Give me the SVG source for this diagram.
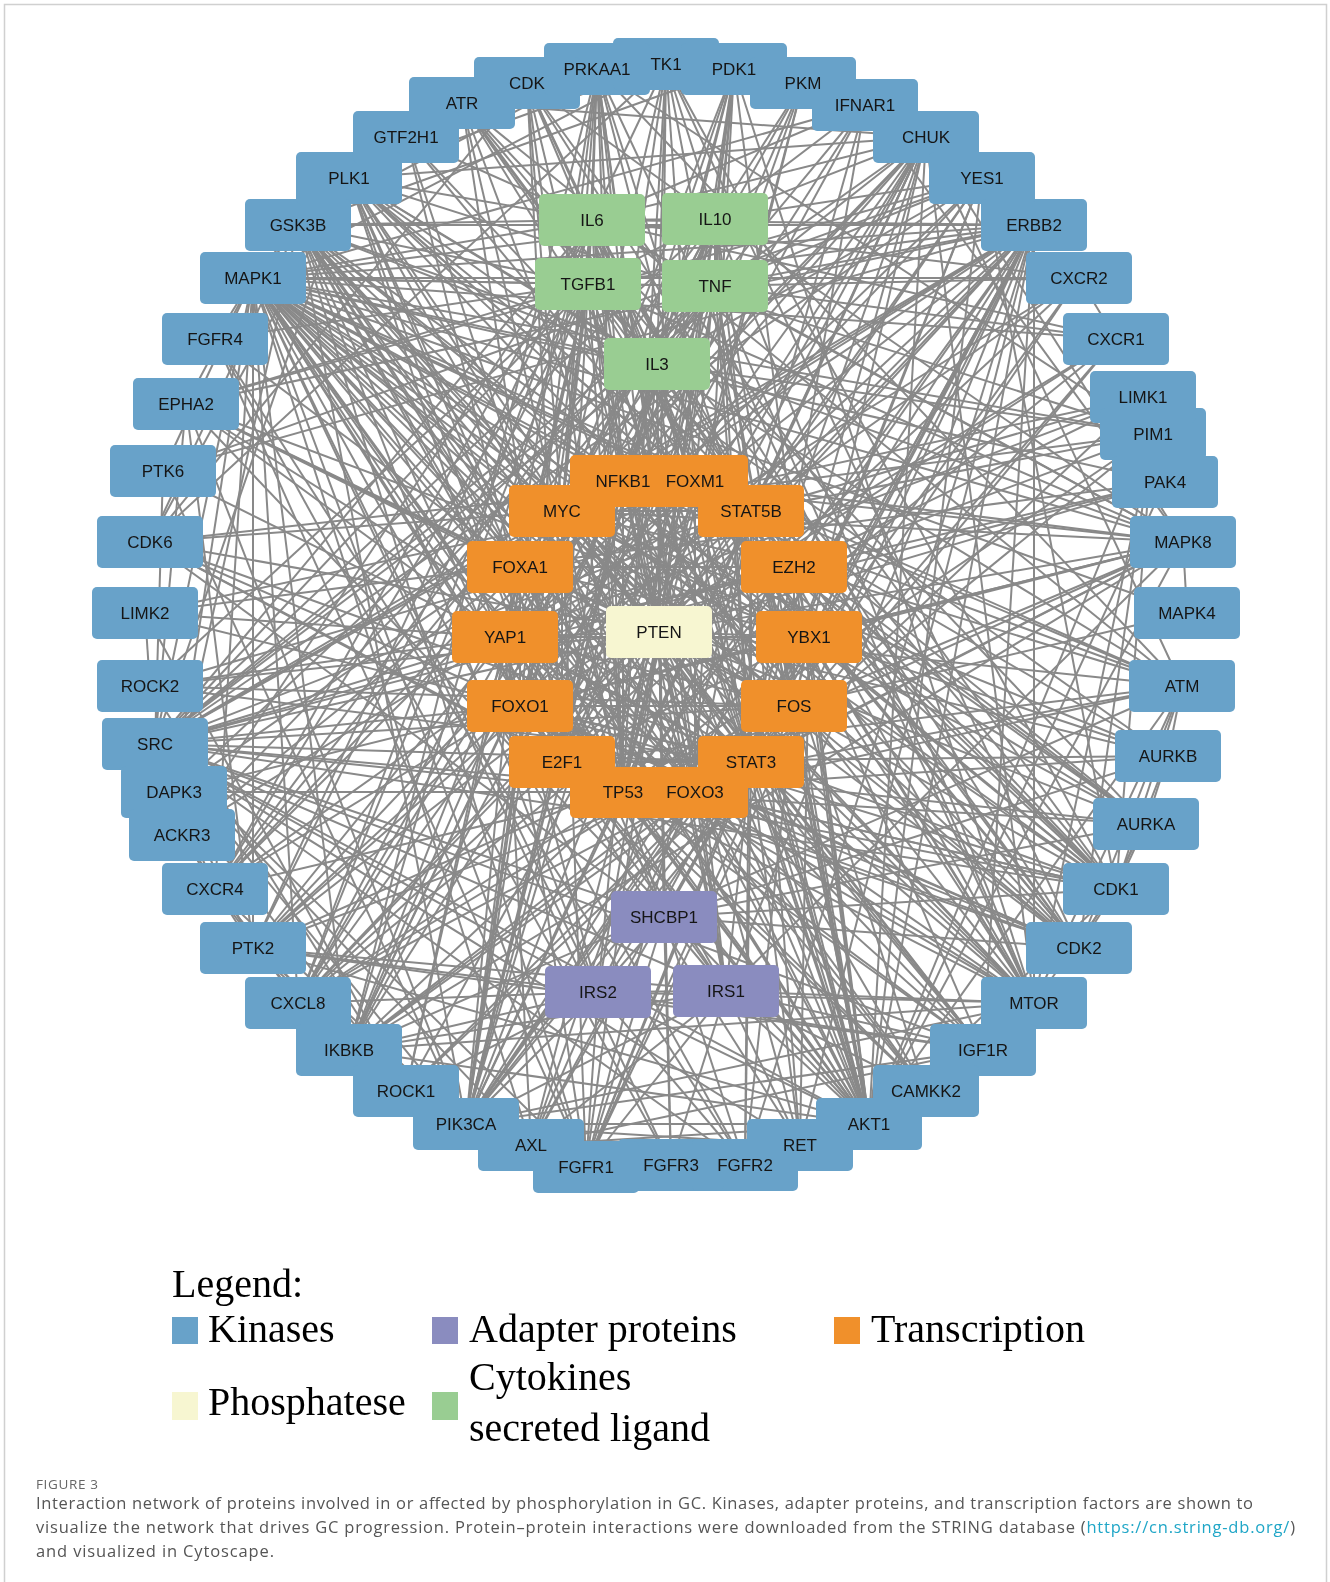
<svg xmlns="http://www.w3.org/2000/svg" width="1330" height="1582" viewBox="0 0 1330 1582">
<style>
.e path{fill:none;stroke:#898989;stroke-width:2}
.n rect{mix-blend-mode:darken}
.n text{font-family:"Liberation Sans",Arial,sans-serif;font-size:17px;fill:#151515;text-anchor:middle}
.k rect{fill:#68a2c9}
.t rect{fill:#f0902b}
.c rect{fill:#99cd92}
.a rect{fill:#8a8cbf}
.p rect{fill:#f7f6d1}
.lg{font-family:"Liberation Serif","Times New Roman",serif;font-size:40px;fill:#000}
.cap{font-family:"Open Sans","Liberation Sans",sans-serif;font-size:16.5px;fill:#555;font-weight:400}
</style>
<rect width="1330" height="1582" fill="#fff"/>
<path d="M4.5 1582V4.5H1326.5V1582" fill="none" stroke="#d0d0d0" stroke-width="1.5"/>
<g id="connectors" class="e">
<path d="M659 632L623 481"/><path d="M659 632L695 481"/><path d="M659 632L562 511"/><path d="M659 632L751 511"/><path d="M659 632L520 567"/><path d="M659 632L794 567"/><path d="M659 632L505 637"/><path d="M659 632L809 637"/><path d="M659 632L520 706"/><path d="M659 632L794 706"/><path d="M659 632L562 762"/><path d="M659 632L751 762"/><path d="M659 632L623 792"/><path d="M659 632L695 792"/>
<path d="M659 632L592 220"/><path d="M659 632L715 219"/><path d="M659 632L588 284"/><path d="M659 632L715 286"/><path d="M659 632L657 364"/><path d="M659 632L664 917"/><path d="M659 632L598 992"/><path d="M659 632L726 991"/>
<path d="M659 632L666 64"/><path d="M659 632L734 69"/><path d="M659 632L803 83"/><path d="M659 632L926 137"/><path d="M659 632L982 178"/><path d="M659 632L1034 225"/><path d="M659 632L1116 339"/><path d="M659 632L1165 482"/><path d="M659 632L1183 542"/><path d="M659 632L1182 686"/><path d="M659 632L1168 756"/><path d="M659 632L1146 824"/><path d="M659 632L1116 889"/><path d="M659 632L1079 948"/><path d="M659 632L1034 1003"/><path d="M659 632L983 1050"/><path d="M659 632L926 1091"/><path d="M659 632L869 1124"/><path d="M659 632L800 1145"/><path d="M659 632L671 1165"/><path d="M659 632L586 1167"/><path d="M659 632L466 1124"/><path d="M659 632L406 1091"/><path d="M659 632L298 1003"/><path d="M659 632L253 948"/><path d="M659 632L155 744"/><path d="M659 632L150 686"/><path d="M659 632L150 542"/><path d="M659 632L186 404"/><path d="M659 632L253 278"/><path d="M659 632L298 225"/><path d="M659 632L349 178"/><path d="M659 632L462 103"/><path d="M659 632L527 83"/><path d="M659 632L597 69"/>
<path d="M623 792L562 511"/><path d="M623 792L751 762"/><path d="M623 792L623 481"/><path d="M623 792L695 792"/><path d="M623 792L562 762"/><path d="M623 792L695 481"/><path d="M623 792L505 637"/><path d="M623 792L809 637"/><path d="M623 792L794 567"/><path d="M623 792L794 706"/><path d="M623 792L520 706"/><path d="M623 792L751 511"/><path d="M623 792L520 567"/><path d="M623 792L592 220"/><path d="M623 792L715 219"/><path d="M623 792L715 286"/><path d="M623 792L588 284"/><path d="M623 792L664 917"/>
<path d="M623 792L1182 686"/><path d="M623 792L462 103"/><path d="M623 792L1116 889"/><path d="M623 792L1079 948"/><path d="M623 792L150 542"/><path d="M623 792L1146 824"/><path d="M623 792L1168 756"/><path d="M623 792L349 178"/><path d="M623 792L1034 1003"/><path d="M623 792L869 1124"/><path d="M623 792L466 1124"/><path d="M623 792L253 278"/><path d="M623 792L1183 542"/><path d="M623 792L298 225"/><path d="M623 792L155 744"/><path d="M623 792L597 69"/><path d="M623 792L926 137"/><path d="M623 792L349 1050"/><path d="M623 792L174 792"/><path d="M623 792L1153 434"/><path d="M623 792L666 64"/><path d="M623 792L527 83"/><path d="M623 792L983 1050"/><path d="M623 792L1034 225"/><path d="M623 792L531 1145"/><path d="M623 792L803 83"/><path d="M623 792L734 69"/><path d="M623 792L406 137"/><path d="M623 792L298 1003"/><path d="M623 792L926 1091"/>
<path d="M562 511L869 1124"/><path d="M562 511L298 225"/><path d="M562 511L253 278"/><path d="M562 511L1183 542"/><path d="M562 511L1034 1003"/><path d="M562 511L1116 889"/><path d="M562 511L1079 948"/><path d="M562 511L150 542"/><path d="M562 511L1146 824"/><path d="M562 511L1168 756"/><path d="M562 511L349 178"/><path d="M562 511L1153 434"/><path d="M562 511L803 83"/><path d="M562 511L734 69"/><path d="M562 511L666 64"/><path d="M562 511L1034 225"/><path d="M562 511L155 744"/><path d="M562 511L983 1050"/><path d="M562 511L466 1124"/><path d="M562 511L926 137"/><path d="M562 511L349 1050"/><path d="M562 511L527 83"/><path d="M562 511L597 69"/><path d="M562 511L586 1167"/>
<path d="M562 511L751 762"/><path d="M562 511L623 481"/><path d="M562 511L695 792"/><path d="M562 511L562 762"/><path d="M562 511L505 637"/><path d="M562 511L794 567"/><path d="M562 511L695 481"/><path d="M562 511L809 637"/><path d="M562 511L794 706"/><path d="M562 511L751 511"/><path d="M562 511L592 220"/><path d="M562 511L715 286"/><path d="M562 511L588 284"/><path d="M562 511L715 219"/>
<path d="M751 762L155 744"/><path d="M751 762L253 278"/><path d="M751 762L1183 542"/><path d="M751 762L869 1124"/><path d="M751 762L1034 1003"/><path d="M751 762L1034 225"/><path d="M751 762L983 1050"/><path d="M751 762L253 948"/><path d="M751 762L215 889"/><path d="M751 762L298 1003"/><path d="M751 762L1116 339"/><path d="M751 762L1079 278"/><path d="M751 762L865 105"/><path d="M751 762L1153 434"/><path d="M751 762L982 178"/><path d="M751 762L466 1124"/><path d="M751 762L349 1050"/><path d="M751 762L926 137"/><path d="M751 762L800 1145"/><path d="M751 762L586 1167"/><path d="M751 762L745 1165"/><path d="M751 762L186 404"/><path d="M751 762L163 471"/><path d="M751 762L531 1145"/><path d="M751 762L145 613"/><path d="M751 762L150 686"/>
<path d="M751 762L623 481"/><path d="M751 762L695 792"/><path d="M751 762L562 762"/><path d="M751 762L505 637"/><path d="M751 762L794 567"/><path d="M751 762L751 511"/><path d="M751 762L695 481"/><path d="M751 762L794 706"/><path d="M751 762L520 706"/><path d="M751 762L520 567"/><path d="M751 762L592 220"/><path d="M751 762L715 219"/><path d="M751 762L715 286"/><path d="M751 762L588 284"/><path d="M751 762L657 364"/><path d="M751 762L726 991"/><path d="M751 762L598 992"/><path d="M751 762L664 917"/>
<path d="M623 481L349 1050"/><path d="M623 481L926 137"/><path d="M623 481L869 1124"/><path d="M623 481L253 278"/><path d="M623 481L1183 542"/><path d="M623 481L155 744"/><path d="M623 481L466 1124"/><path d="M623 481L1034 1003"/><path d="M623 481L298 225"/><path d="M623 481L1182 686"/><path d="M623 481L298 1003"/><path d="M623 481L215 889"/><path d="M623 481L865 105"/><path d="M623 481L1034 225"/><path d="M623 481L597 69"/><path d="M623 481L734 69"/><path d="M623 481L174 792"/><path d="M623 481L182 835"/>
<path d="M623 481L695 792"/><path d="M623 481L562 762"/><path d="M623 481L794 706"/><path d="M623 481L751 511"/><path d="M623 481L505 637"/><path d="M623 481L520 706"/><path d="M623 481L592 220"/><path d="M623 481L715 219"/><path d="M623 481L715 286"/><path d="M623 481L588 284"/><path d="M623 481L657 364"/><path d="M623 481L726 991"/>
<path d="M695 792L869 1124"/><path d="M695 792L1034 1003"/><path d="M695 792L597 69"/><path d="M695 792L466 1124"/><path d="M695 792L349 1050"/><path d="M695 792L253 278"/><path d="M695 792L1183 542"/><path d="M695 792L1116 889"/><path d="M695 792L1079 948"/><path d="M695 792L298 225"/><path d="M695 792L983 1050"/><path d="M695 792L155 744"/><path d="M695 792L349 178"/><path d="M695 792L1182 686"/><path d="M695 792L926 1091"/><path d="M695 792L734 69"/><path d="M695 792L926 137"/>
<path d="M695 792L520 706"/><path d="M695 792L695 481"/><path d="M695 792L562 762"/><path d="M695 792L505 637"/><path d="M695 792L520 567"/><path d="M695 792L751 511"/><path d="M695 792L726 991"/><path d="M695 792L598 992"/>
<path d="M562 762L1116 889"/><path d="M562 762L1079 948"/><path d="M562 762L150 542"/><path d="M562 762L527 83"/><path d="M562 762L1182 686"/><path d="M562 762L462 103"/><path d="M562 762L1146 824"/><path d="M562 762L1168 756"/><path d="M562 762L349 178"/><path d="M562 762L666 64"/><path d="M562 762L406 137"/><path d="M562 762L869 1124"/><path d="M562 762L253 278"/><path d="M562 762L926 137"/><path d="M562 762L803 83"/>
<path d="M562 762L695 481"/><path d="M562 762L794 567"/><path d="M562 762L809 637"/><path d="M562 762L505 637"/><path d="M562 762L520 706"/><path d="M562 762L588 284"/>
<path d="M695 481L1116 889"/><path d="M695 481L1079 948"/><path d="M695 481L150 542"/><path d="M695 481L349 178"/><path d="M695 481L1146 824"/><path d="M695 481L1168 756"/><path d="M695 481L1182 686"/><path d="M695 481L462 103"/><path d="M695 481L869 1124"/><path d="M695 481L253 278"/><path d="M695 481L1183 542"/><path d="M695 481L1034 1003"/><path d="M695 481L666 64"/><path d="M695 481L527 83"/><path d="M695 481L734 69"/>
<path d="M695 481L794 567"/><path d="M695 481L809 637"/><path d="M695 481L520 567"/><path d="M695 481L751 511"/><path d="M695 481L520 706"/><path d="M695 481L592 220"/>
<path d="M751 511L155 744"/><path d="M751 511L982 178"/><path d="M751 511L1153 434"/><path d="M751 511L1034 225"/><path d="M751 511L253 278"/><path d="M751 511L869 1124"/><path d="M751 511L865 105"/><path d="M751 511L253 948"/><path d="M751 511L983 1050"/><path d="M751 511L586 1167"/><path d="M751 511L745 1165"/><path d="M751 511L800 1145"/><path d="M751 511L531 1145"/><path d="M751 511L926 137"/><path d="M751 511L657 364"/><path d="M751 511L592 220"/><path d="M751 511L715 219"/><path d="M751 511L505 637"/><path d="M751 511L794 567"/><path d="M751 511L794 706"/>
<path d="M520 567L1034 225"/><path d="M520 567L253 278"/><path d="M520 567L869 1124"/><path d="M520 567L298 225"/><path d="M520 567L466 1124"/><path d="M520 567L215 339"/><path d="M520 567L186 404"/><path d="M520 567L794 567"/><path d="M520 567L809 637"/><path d="M520 567L520 706"/><path d="M520 567L505 637"/><path d="M520 567L588 284"/>
<path d="M794 567L1116 889"/><path d="M794 567L1079 948"/><path d="M794 567L869 1124"/><path d="M794 567L1182 686"/><path d="M794 567L1146 824"/><path d="M794 567L349 178"/><path d="M794 567L253 278"/><path d="M794 567L1034 225"/><path d="M794 567L155 744"/><path d="M794 567L1143 397"/><path d="M794 567L1153 434"/><path d="M794 567L505 637"/><path d="M794 567L809 637"/><path d="M794 567L794 706"/><path d="M794 567L588 284"/><path d="M794 567L592 220"/>
<path d="M505 637L155 744"/><path d="M505 637L982 178"/><path d="M505 637L1143 397"/><path d="M505 637L145 613"/><path d="M505 637L406 1091"/><path d="M505 637L150 686"/><path d="M505 637L1165 482"/><path d="M505 637L869 1124"/><path d="M505 637L1034 1003"/><path d="M505 637L253 278"/><path d="M505 637L253 948"/><path d="M505 637L186 404"/><path d="M505 637L531 1145"/><path d="M505 637L1034 225"/><path d="M505 637L597 69"/><path d="M505 637L586 1167"/><path d="M505 637L809 637"/><path d="M505 637L794 706"/><path d="M505 637L520 706"/><path d="M505 637L588 284"/>
<path d="M809 637L869 1124"/><path d="M809 637L253 278"/><path d="M809 637L1034 1003"/><path d="M809 637L1034 225"/><path d="M809 637L1116 889"/><path d="M809 637L466 1124"/><path d="M809 637L1168 756"/><path d="M809 637L1183 542"/><path d="M809 637L186 404"/><path d="M809 637L800 1145"/><path d="M809 637L794 706"/><path d="M809 637L520 706"/>
<path d="M520 706L869 1124"/><path d="M520 706L1034 1003"/><path d="M520 706L466 1124"/><path d="M520 706L983 1050"/><path d="M520 706L1116 889"/><path d="M520 706L1079 948"/><path d="M520 706L298 225"/><path d="M520 706L1183 542"/><path d="M520 706L597 69"/><path d="M520 706L155 744"/><path d="M520 706L734 69"/><path d="M520 706L926 1091"/><path d="M520 706L349 178"/><path d="M520 706L726 991"/><path d="M520 706L598 992"/><path d="M520 706L794 706"/>
<path d="M794 706L253 278"/><path d="M794 706L1183 542"/><path d="M794 706L1187 613"/><path d="M794 706L155 744"/><path d="M794 706L869 1124"/><path d="M794 706L926 137"/><path d="M794 706L349 1050"/><path d="M794 706L253 948"/><path d="M794 706L586 1167"/><path d="M794 706L745 1165"/><path d="M794 706L1034 225"/><path d="M794 706L186 404"/><path d="M794 706L298 1003"/><path d="M794 706L406 1091"/><path d="M794 706L150 686"/><path d="M794 706L715 286"/><path d="M794 706L592 220"/>
<path d="M592 220L715 219"/><path d="M592 220L715 286"/><path d="M592 220L588 284"/><path d="M592 220L657 364"/><path d="M592 220L298 1003"/><path d="M592 220L1116 339"/><path d="M592 220L1079 278"/><path d="M592 220L215 889"/><path d="M592 220L155 744"/><path d="M592 220L869 1124"/><path d="M592 220L1034 1003"/><path d="M592 220L253 278"/><path d="M592 220L1183 542"/><path d="M592 220L298 225"/><path d="M592 220L349 1050"/><path d="M592 220L926 137"/><path d="M592 220L1034 225"/><path d="M592 220L865 105"/><path d="M592 220L253 948"/><path d="M592 220L182 835"/><path d="M592 220L466 1124"/><path d="M592 220L666 64"/><path d="M592 220L527 83"/><path d="M592 220L597 69"/><path d="M592 220L349 178"/><path d="M592 220L406 137"/>
<path d="M715 219L715 286"/><path d="M715 219L588 284"/><path d="M715 219L657 364"/><path d="M715 219L865 105"/><path d="M715 219L298 1003"/><path d="M715 219L869 1124"/><path d="M715 219L253 278"/><path d="M715 219L1183 542"/><path d="M715 219L155 744"/><path d="M715 219L349 1050"/><path d="M715 219L926 137"/><path d="M715 219L466 1124"/><path d="M715 219L1034 1003"/><path d="M715 219L666 64"/><path d="M715 219L734 69"/><path d="M715 219L803 83"/><path d="M715 219L982 178"/><path d="M715 219L215 889"/><path d="M715 219L527 83"/>
<path d="M588 284L715 286"/><path d="M588 284L657 364"/><path d="M588 284L155 744"/><path d="M588 284L869 1124"/><path d="M588 284L253 278"/><path d="M588 284L1183 542"/><path d="M588 284L1034 225"/><path d="M588 284L253 948"/><path d="M588 284L406 1091"/><path d="M588 284L150 686"/><path d="M588 284L298 1003"/><path d="M588 284L215 889"/><path d="M588 284L1034 1003"/><path d="M588 284L298 225"/><path d="M588 284L466 1124"/><path d="M588 284L186 404"/><path d="M588 284L215 339"/><path d="M588 284L597 69"/><path d="M588 284L462 103"/>
<path d="M715 286L657 364"/><path d="M715 286L349 1050"/><path d="M715 286L926 137"/><path d="M715 286L253 278"/><path d="M715 286L1183 542"/><path d="M715 286L869 1124"/><path d="M715 286L155 744"/><path d="M715 286L298 1003"/><path d="M715 286L1116 339"/><path d="M715 286L1079 278"/><path d="M715 286L215 889"/><path d="M715 286L865 105"/><path d="M715 286L466 1124"/><path d="M715 286L1034 1003"/><path d="M715 286L174 792"/><path d="M715 286L182 835"/><path d="M715 286L803 83"/><path d="M715 286L734 69"/><path d="M715 286L982 178"/><path d="M715 286L1034 225"/>
<path d="M657 364L155 744"/><path d="M657 364L1153 434"/><path d="M657 364L869 1124"/><path d="M657 364L253 278"/><path d="M657 364L466 1124"/><path d="M657 364L726 991"/><path d="M657 364L598 992"/><path d="M657 364L664 917"/><path d="M657 364L666 64"/><path d="M657 364L527 83"/><path d="M657 364L982 178"/><path d="M657 364L462 103"/><path d="M657 364L349 178"/><path d="M657 364L298 225"/>
<path d="M664 917L726 991"/><path d="M664 917L598 992"/><path d="M664 917L1116 889"/><path d="M664 917L1079 948"/><path d="M664 917L1146 824"/><path d="M664 917L1168 756"/><path d="M664 917L349 178"/><path d="M664 917L586 1167"/><path d="M664 917L745 1165"/><path d="M664 917L671 1165"/><path d="M664 917L155 744"/><path d="M664 917L1034 225"/><path d="M664 917L150 542"/>
<path d="M726 991L598 992"/><path d="M726 991L983 1050"/><path d="M726 991L869 1124"/><path d="M726 991L466 1124"/><path d="M726 991L1034 1003"/><path d="M726 991L155 744"/><path d="M726 991L253 278"/><path d="M726 991L1183 542"/><path d="M726 991L597 69"/><path d="M726 991L298 225"/><path d="M726 991L349 1050"/><path d="M726 991L586 1167"/><path d="M726 991L671 1165"/><path d="M726 991L800 1145"/><path d="M726 991L1034 225"/><path d="M726 991L253 948"/><path d="M726 991L926 1091"/><path d="M726 991L531 1145"/>
<path d="M598 992L983 1050"/><path d="M598 992L869 1124"/><path d="M598 992L466 1124"/><path d="M598 992L1034 1003"/><path d="M598 992L155 744"/><path d="M598 992L253 278"/><path d="M598 992L298 225"/><path d="M598 992L349 1050"/><path d="M598 992L586 1167"/><path d="M598 992L745 1165"/><path d="M598 992L531 1145"/><path d="M598 992L406 1091"/><path d="M598 992L298 1003"/><path d="M598 992L253 948"/>
<path d="M1116 889L1079 948"/><path d="M1116 889L1146 824"/><path d="M1116 889L1168 756"/><path d="M1116 889L349 178"/><path d="M1116 889L462 103"/><path d="M1116 889L1182 686"/><path d="M1116 889L150 542"/><path d="M1116 889L527 83"/><path d="M1116 889L666 64"/><path d="M1116 889L1153 434"/><path d="M1116 889L253 278"/><path d="M1116 889L298 225"/><path d="M1116 889L155 744"/><path d="M1116 889L869 1124"/><path d="M1116 889L1034 1003"/><path d="M1116 889L406 137"/>
<path d="M1079 948L1146 824"/><path d="M1079 948L1182 686"/><path d="M1079 948L462 103"/><path d="M1079 948L150 542"/><path d="M1079 948L349 178"/><path d="M1079 948L527 83"/><path d="M1079 948L666 64"/><path d="M1079 948L298 225"/><path d="M1079 948L406 137"/>
<path d="M1146 824L1168 756"/><path d="M1146 824L349 178"/><path d="M1146 824L462 103"/><path d="M1168 756L349 178"/><path d="M1168 756L1182 686"/><path d="M349 178L462 103"/><path d="M349 178L1182 686"/>
<path d="M1182 686L462 103"/><path d="M1182 686L926 137"/><path d="M1182 686L349 1050"/><path d="M1182 686L597 69"/><path d="M1182 686L869 1124"/><path d="M1182 686L1034 1003"/><path d="M150 542L527 83"/><path d="M150 542L666 64"/><path d="M527 83L406 137"/><path d="M527 83L298 225"/><path d="M527 83L666 64"/>
<path d="M869 1124L1034 1003"/><path d="M869 1124L466 1124"/><path d="M869 1124L734 69"/><path d="M869 1124L298 225"/><path d="M869 1124L983 1050"/><path d="M869 1124L597 69"/><path d="M869 1124L926 137"/><path d="M869 1124L349 1050"/><path d="M869 1124L155 744"/><path d="M869 1124L253 948"/><path d="M869 1124L1034 225"/><path d="M869 1124L253 278"/><path d="M869 1124L1183 542"/><path d="M869 1124L926 1091"/><path d="M869 1124L1165 482"/><path d="M869 1124L1153 434"/><path d="M869 1124L531 1145"/><path d="M869 1124L800 1145"/><path d="M869 1124L586 1167"/><path d="M869 1124L186 404"/>
<path d="M1034 1003L466 1124"/><path d="M1034 1003L597 69"/><path d="M1034 1003L734 69"/><path d="M1034 1003L298 225"/><path d="M1034 1003L983 1050"/><path d="M1034 1003L253 278"/>
<path d="M466 1124L734 69"/><path d="M466 1124L983 1050"/><path d="M466 1124L1034 225"/><path d="M466 1124L155 744"/><path d="M466 1124L253 948"/><path d="M466 1124L586 1167"/><path d="M466 1124L745 1165"/><path d="M466 1124L671 1165"/><path d="M466 1124L186 404"/><path d="M466 1124L531 1145"/><path d="M466 1124L800 1145"/><path d="M466 1124L215 889"/><path d="M466 1124L1116 339"/><path d="M466 1124L1079 278"/><path d="M466 1124L163 471"/>
<path d="M734 69L803 83"/><path d="M734 69L298 225"/><path d="M597 69L926 1091"/><path d="M597 69L298 225"/><path d="M597 69L803 83"/><path d="M298 225L253 278"/><path d="M298 225L174 792"/>
<path d="M155 744L253 948"/><path d="M155 744L1034 225"/><path d="M155 744L186 404"/><path d="M155 744L586 1167"/><path d="M155 744L745 1165"/><path d="M155 744L983 1050"/><path d="M155 744L531 1145"/><path d="M155 744L800 1145"/><path d="M155 744L163 471"/><path d="M155 744L982 178"/><path d="M155 744L215 889"/><path d="M155 744L253 278"/><path d="M155 744L1165 482"/>
<path d="M1034 225L163 471"/><path d="M1034 225L982 178"/><path d="M1034 225L983 1050"/><path d="M1034 225L186 404"/><path d="M1034 225L586 1167"/><path d="M1034 225L253 278"/><path d="M1034 225L253 948"/>
<path d="M586 1167L745 1165"/><path d="M586 1167L671 1165"/><path d="M586 1167L215 339"/><path d="M586 1167L253 278"/><path d="M745 1165L671 1165"/><path d="M745 1165L215 339"/><path d="M671 1165L215 339"/><path d="M215 339L253 278"/>
<path d="M983 1050L531 1145"/><path d="M983 1050L800 1145"/><path d="M983 1050L253 948"/><path d="M531 1145L253 278"/><path d="M186 404L253 948"/><path d="M186 404L982 178"/><path d="M800 1145L253 278"/>
<path d="M253 948L215 889"/><path d="M253 948L253 278"/><path d="M253 948L982 178"/><path d="M253 948L406 1091"/>
<path d="M1143 397L145 613"/><path d="M1143 397L406 1091"/><path d="M1143 397L150 686"/><path d="M1143 397L1165 482"/><path d="M145 613L406 1091"/><path d="M145 613L150 686"/><path d="M145 613L1165 482"/><path d="M406 1091L150 686"/><path d="M406 1091L174 792"/><path d="M150 686L174 792"/><path d="M1165 482L253 278"/>
<path d="M1116 339L1079 278"/><path d="M1116 339L298 1003"/><path d="M1116 339L215 889"/><path d="M1079 278L298 1003"/><path d="M1079 278L215 889"/><path d="M1079 278L182 835"/><path d="M215 889L182 835"/><path d="M215 889L298 1003"/><path d="M215 889L253 278"/><path d="M182 835L298 1003"/><path d="M298 1003L253 278"/><path d="M298 1003L926 137"/>
<path d="M253 278L1183 542"/><path d="M253 278L1187 613"/><path d="M253 278L349 1050"/><path d="M253 278L865 105"/><path d="M1183 542L1187 613"/><path d="M1183 542L349 1050"/><path d="M1183 542L926 137"/><path d="M1183 542L865 105"/><path d="M1183 542L174 792"/><path d="M349 1050L926 137"/><path d="M349 1050L865 105"/><path d="M865 105L926 137"/><path d="M865 105L982 178"/><path d="M803 83L666 64"/><path d="M462 103L926 137"/><path d="M406 137L666 64"/>
<path d="M253 278L1079 948"/><path d="M253 278L163 471"/><path d="M253 278L186 404"/><path d="M253 278L1182 686"/><path d="M253 278L1146 824"/><path d="M253 278L926 1091"/><path d="M253 278L745 1165"/><path d="M253 278L671 1165"/><path d="M253 278L983 1050"/><path d="M253 278L1153 434"/><path d="M253 278L1116 339"/><path d="M253 278L1079 278"/><path d="M253 278L174 792"/>
<path d="M298 225L150 542"/><path d="M298 225L926 1091"/><path d="M298 225L983 1050"/><path d="M298 225L1183 542"/><path d="M298 225L466 1124"/><path d="M298 225L1146 824"/><path d="M298 225L1034 225"/><path d="M298 225L586 1167"/>
<path d="M349 178L150 542"/><path d="M349 178L527 83"/><path d="M349 178L253 278"/><path d="M349 178L926 137"/><path d="M349 178L666 64"/><path d="M349 178L1153 434"/><path d="M349 178L155 744"/>
<path d="M926 137L1034 1003"/><path d="M926 137L466 1124"/><path d="M926 137L155 744"/><path d="M926 137L215 889"/>
<path d="M982 178L586 1167"/><path d="M982 178L869 1124"/><path d="M982 178L1116 889"/><path d="M982 178L163 471"/>
<path d="M1034 225L298 1003"/><path d="M1034 225L1034 1003"/><path d="M1034 225L531 1145"/><path d="M1034 225L745 1165"/><path d="M1034 225L800 1145"/>
<path d="M349 1050L1034 1003"/><path d="M349 1050L597 69"/><path d="M349 1050L215 889"/><path d="M1153 434L1034 1003"/><path d="M1153 434L1079 948"/><path d="M1153 434L597 69"/><path d="M666 64L869 1124"/><path d="M666 64L253 278"/>
</g>
<g id="nodes" style="isolation:isolate">
<g id="node-TK1" class="n k"><rect x="613" y="38" width="106" height="52" rx="5"/><text x="666" y="70">TK1</text></g>
<g id="node-PDK1" class="n k"><rect x="681" y="43" width="106" height="52" rx="5"/><text x="734" y="75">PDK1</text></g>
<g id="node-PKM" class="n k"><rect x="750" y="57" width="106" height="52" rx="5"/><text x="803" y="89">PKM</text></g>
<g id="node-IFNAR1" class="n k"><rect x="812" y="79" width="106" height="52" rx="5"/><text x="865" y="111">IFNAR1</text></g>
<g id="node-CHUK" class="n k"><rect x="873" y="111" width="106" height="52" rx="5"/><text x="926" y="143">CHUK</text></g>
<g id="node-YES1" class="n k"><rect x="929" y="152" width="106" height="52" rx="5"/><text x="982" y="184">YES1</text></g>
<g id="node-ERBB2" class="n k"><rect x="981" y="199" width="106" height="52" rx="5"/><text x="1034" y="231">ERBB2</text></g>
<g id="node-CXCR2" class="n k"><rect x="1026" y="252" width="106" height="52" rx="5"/><text x="1079" y="284">CXCR2</text></g>
<g id="node-CXCR1" class="n k"><rect x="1063" y="313" width="106" height="52" rx="5"/><text x="1116" y="345">CXCR1</text></g>
<g id="node-LIMK1" class="n k"><rect x="1090" y="371" width="106" height="52" rx="5"/><text x="1143" y="403">LIMK1</text></g>
<g id="node-PIM1" class="n k"><rect x="1100" y="408" width="106" height="52" rx="5"/><text x="1153" y="440">PIM1</text></g>
<g id="node-PAK4" class="n k"><rect x="1112" y="456" width="106" height="52" rx="5"/><text x="1165" y="488">PAK4</text></g>
<g id="node-MAPK8" class="n k"><rect x="1130" y="516" width="106" height="52" rx="5"/><text x="1183" y="548">MAPK8</text></g>
<g id="node-MAPK4" class="n k"><rect x="1134" y="587" width="106" height="52" rx="5"/><text x="1187" y="619">MAPK4</text></g>
<g id="node-ATM" class="n k"><rect x="1129" y="660" width="106" height="52" rx="5"/><text x="1182" y="692">ATM</text></g>
<g id="node-AURKB" class="n k"><rect x="1115" y="730" width="106" height="52" rx="5"/><text x="1168" y="762">AURKB</text></g>
<g id="node-AURKA" class="n k"><rect x="1093" y="798" width="106" height="52" rx="5"/><text x="1146" y="830">AURKA</text></g>
<g id="node-CDK1" class="n k"><rect x="1063" y="863" width="106" height="52" rx="5"/><text x="1116" y="895">CDK1</text></g>
<g id="node-CDK2" class="n k"><rect x="1026" y="922" width="106" height="52" rx="5"/><text x="1079" y="954">CDK2</text></g>
<g id="node-MTOR" class="n k"><rect x="981" y="977" width="106" height="52" rx="5"/><text x="1034" y="1009">MTOR</text></g>
<g id="node-IGF1R" class="n k"><rect x="930" y="1024" width="106" height="52" rx="5"/><text x="983" y="1056">IGF1R</text></g>
<g id="node-CAMKK2" class="n k"><rect x="873" y="1065" width="106" height="52" rx="5"/><text x="926" y="1097">CAMKK2</text></g>
<g id="node-AKT1" class="n k"><rect x="816" y="1098" width="106" height="52" rx="5"/><text x="869" y="1130">AKT1</text></g>
<g id="node-RET" class="n k"><rect x="747" y="1119" width="106" height="52" rx="5"/><text x="800" y="1151">RET</text></g>
<g id="node-FGFR2" class="n k"><rect x="692" y="1139" width="106" height="52" rx="5"/><text x="745" y="1171">FGFR2</text></g>
<g id="node-FGFR3" class="n k"><rect x="618" y="1139" width="106" height="52" rx="5"/><text x="671" y="1171">FGFR3</text></g>
<g id="node-FGFR1" class="n k"><rect x="533" y="1141" width="106" height="52" rx="5"/><text x="586" y="1173">FGFR1</text></g>
<g id="node-AXL" class="n k"><rect x="478" y="1119" width="106" height="52" rx="5"/><text x="531" y="1151">AXL</text></g>
<g id="node-PIK3CA" class="n k"><rect x="413" y="1098" width="106" height="52" rx="5"/><text x="466" y="1130">PIK3CA</text></g>
<g id="node-ROCK1" class="n k"><rect x="353" y="1065" width="106" height="52" rx="5"/><text x="406" y="1097">ROCK1</text></g>
<g id="node-IKBKB" class="n k"><rect x="296" y="1024" width="106" height="52" rx="5"/><text x="349" y="1056">IKBKB</text></g>
<g id="node-CXCL8" class="n k"><rect x="245" y="977" width="106" height="52" rx="5"/><text x="298" y="1009">CXCL8</text></g>
<g id="node-PTK2" class="n k"><rect x="200" y="922" width="106" height="52" rx="5"/><text x="253" y="954">PTK2</text></g>
<g id="node-CXCR4" class="n k"><rect x="162" y="863" width="106" height="52" rx="5"/><text x="215" y="895">CXCR4</text></g>
<g id="node-ACKR3" class="n k"><rect x="129" y="809" width="106" height="52" rx="5"/><text x="182" y="841">ACKR3</text></g>
<g id="node-DAPK3" class="n k"><rect x="121" y="766" width="106" height="52" rx="5"/><text x="174" y="798">DAPK3</text></g>
<g id="node-SRC" class="n k"><rect x="102" y="718" width="106" height="52" rx="5"/><text x="155" y="750">SRC</text></g>
<g id="node-ROCK2" class="n k"><rect x="97" y="660" width="106" height="52" rx="5"/><text x="150" y="692">ROCK2</text></g>
<g id="node-LIMK2" class="n k"><rect x="92" y="587" width="106" height="52" rx="5"/><text x="145" y="619">LIMK2</text></g>
<g id="node-CDK6" class="n k"><rect x="97" y="516" width="106" height="52" rx="5"/><text x="150" y="548">CDK6</text></g>
<g id="node-PTK6" class="n k"><rect x="110" y="445" width="106" height="52" rx="5"/><text x="163" y="477">PTK6</text></g>
<g id="node-EPHA2" class="n k"><rect x="133" y="378" width="106" height="52" rx="5"/><text x="186" y="410">EPHA2</text></g>
<g id="node-FGFR4" class="n k"><rect x="162" y="313" width="106" height="52" rx="5"/><text x="215" y="345">FGFR4</text></g>
<g id="node-MAPK1" class="n k"><rect x="200" y="252" width="106" height="52" rx="5"/><text x="253" y="284">MAPK1</text></g>
<g id="node-GSK3B" class="n k"><rect x="245" y="199" width="106" height="52" rx="5"/><text x="298" y="231">GSK3B</text></g>
<g id="node-PLK1" class="n k"><rect x="296" y="152" width="106" height="52" rx="5"/><text x="349" y="184">PLK1</text></g>
<g id="node-GTF2H1" class="n k"><rect x="353" y="111" width="106" height="52" rx="5"/><text x="406" y="143">GTF2H1</text></g>
<g id="node-ATR" class="n k"><rect x="409" y="77" width="106" height="52" rx="5"/><text x="462" y="109">ATR</text></g>
<g id="node-CDK" class="n k"><rect x="474" y="57" width="106" height="52" rx="5"/><text x="527" y="89">CDK</text></g>
<g id="node-PRKAA1" class="n k"><rect x="544" y="43" width="106" height="52" rx="5"/><text x="597" y="75">PRKAA1</text></g>
<g id="node-IL6" class="n c"><rect x="539" y="194" width="106" height="52" rx="5"/><text x="592" y="226">IL6</text></g>
<g id="node-IL10" class="n c"><rect x="662" y="193" width="106" height="52" rx="5"/><text x="715" y="225">IL10</text></g>
<g id="node-TGFB1" class="n c"><rect x="535" y="258" width="106" height="52" rx="5"/><text x="588" y="290">TGFB1</text></g>
<g id="node-TNF" class="n c"><rect x="662" y="260" width="106" height="52" rx="5"/><text x="715" y="292">TNF</text></g>
<g id="node-IL3" class="n c"><rect x="604" y="338" width="106" height="52" rx="5"/><text x="657" y="370">IL3</text></g>
<g id="node-MYC" class="n t"><rect x="509" y="485" width="106" height="52" rx="5"/><text x="562" y="517">MYC</text></g>
<g id="node-STAT5B" class="n t"><rect x="698" y="485" width="106" height="52" rx="5"/><text x="751" y="517">STAT5B</text></g>
<g id="node-NFKB1" class="n t"><rect x="570" y="455" width="106" height="52" rx="5"/><text x="623" y="487">NFKB1</text></g>
<g id="node-FOXM1" class="n t"><rect x="642" y="455" width="106" height="52" rx="5"/><text x="695" y="487">FOXM1</text></g>
<g id="node-FOXA1" class="n t"><rect x="467" y="541" width="106" height="52" rx="5"/><text x="520" y="573">FOXA1</text></g>
<g id="node-EZH2" class="n t"><rect x="741" y="541" width="106" height="52" rx="5"/><text x="794" y="573">EZH2</text></g>
<g id="node-YAP1" class="n t"><rect x="452" y="611" width="106" height="52" rx="5"/><text x="505" y="643">YAP1</text></g>
<g id="node-YBX1" class="n t"><rect x="756" y="611" width="106" height="52" rx="5"/><text x="809" y="643">YBX1</text></g>
<g id="node-FOXO1" class="n t"><rect x="467" y="680" width="106" height="52" rx="5"/><text x="520" y="712">FOXO1</text></g>
<g id="node-FOS" class="n t"><rect x="741" y="680" width="106" height="52" rx="5"/><text x="794" y="712">FOS</text></g>
<g id="node-E2F1" class="n t"><rect x="509" y="736" width="106" height="52" rx="5"/><text x="562" y="768">E2F1</text></g>
<g id="node-STAT3" class="n t"><rect x="698" y="736" width="106" height="52" rx="5"/><text x="751" y="768">STAT3</text></g>
<g id="node-TP53" class="n t"><rect x="570" y="767" width="106" height="51" rx="5"/><text x="623" y="798">TP53</text></g>
<g id="node-FOXO3" class="n t"><rect x="642" y="767" width="106" height="51" rx="5"/><text x="695" y="798">FOXO3</text></g>
<g id="node-PTEN" class="n p"><rect x="606" y="606" width="106" height="52" rx="5"/><text x="659" y="638">PTEN</text></g>
<g id="node-SHCBP1" class="n a"><rect x="611" y="891" width="106" height="52" rx="5"/><text x="664" y="923">SHCBP1</text></g>
<g id="node-IRS2" class="n a"><rect x="545" y="966" width="106" height="52" rx="5"/><text x="598" y="998">IRS2</text></g>
<g id="node-IRS1" class="n a"><rect x="673" y="965" width="106" height="52" rx="5"/><text x="726" y="997">IRS1</text></g>
</g>
<g id="legend">
<text class="lg" x="172" y="1297">Legend:</text>
<rect x="172" y="1317" width="26" height="27" fill="#68a2c9"/><text class="lg" x="208" y="1342">Kinases</text>
<rect x="432" y="1317" width="26" height="27" fill="#8a8cbf"/><text class="lg" x="469" y="1342">Adapter proteins</text>
<rect x="834" y="1317" width="26" height="27" fill="#f0902b"/><text class="lg" x="871" y="1342">Transcription</text>
<rect x="172" y="1392" width="26" height="28" fill="#f7f6d1"/><text class="lg" x="208" y="1415">Phosphatese</text>
<rect x="432" y="1392" width="26" height="28" fill="#99cd92"/><text class="lg" x="469" y="1390">Cytokines</text><text class="lg" x="469" y="1441">secreted ligand</text>
</g>
<g id="caption">
<text class="cap" x="36" y="1489" style="font-size:13.5px;fill:#666" textLength="62">FIGURE 3</text>
<text class="cap" x="36" y="1509" textLength="1217">Interaction network of proteins involved in or affected by phosphorylation in GC. Kinases, adapter proteins, and transcription factors are shown to</text>
<text class="cap" x="36" y="1533" textLength="1259">visualize the network that drives GC progression. Protein–protein interactions were downloaded from the STRING database (<tspan fill="#1fa6c7">https://cn.string-db.org/</tspan>)</text>
<text class="cap" x="36" y="1557" textLength="238">and visualized in Cytoscape.</text>
</g>
</svg>
